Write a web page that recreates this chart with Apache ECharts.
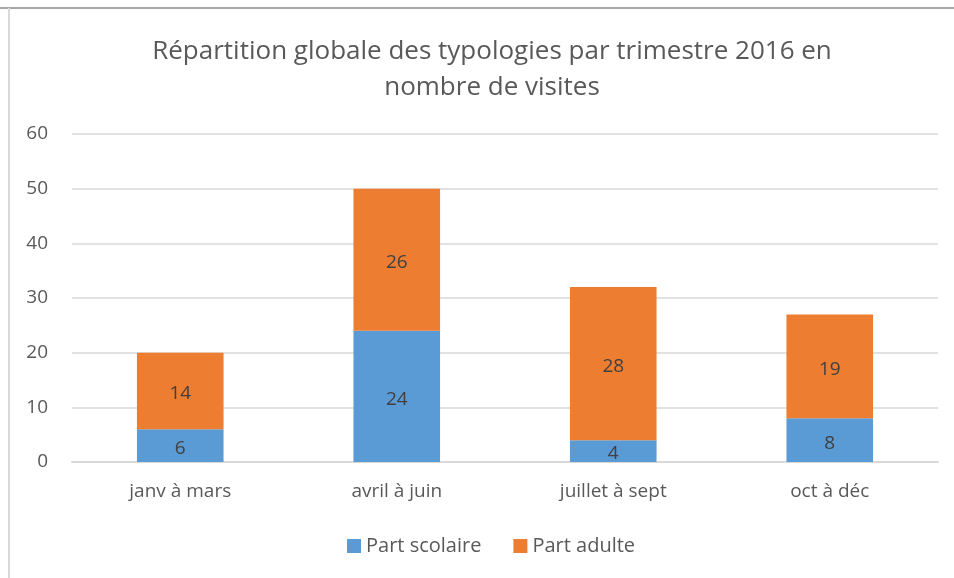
<!DOCTYPE html>
<html>
<head>
<meta charset="utf-8">
<script src="https://cdn.jsdelivr.net/npm/echarts@6/dist/echarts.min.js"></script>
<style>
  html, body { margin: 0; padding: 0; background: #fff; }
  #main { width: 954px; height: 578px; }
</style>
</head>
<body>
<div id="main"></div>
<script>
// donnees
var trimestres = ['janv à mars', 'avril à juin', 'juillet à sept', 'oct à déc'];
var partScolaire = [6, 24, 4, 8];
var partAdulte = [14, 26, 28, 19];
var yTicks = [0, 10, 20, 30, 40, 50, 60];

var police = '"Open Sans", "Liberation Sans", sans-serif';

var myChart = echarts.init(document.getElementById('main'));
var option = {
    backgroundColor: '#fff',
    animation: false,
    title: {
        text: 'Répartition globale des typologies par trimestre 2016 en\nnombre de visites',
        left: 487,
        textAlign: 'center',
        top: 29,
        textStyle: {
            fontFamily: police,
            fontSize: 26,
            fontWeight: 'normal',
            color: '#595959',
            lineHeight: 36
        }
    },
    graphic: [
        {type: 'line', shape: {x1: 0, y1: 8, x2: 954, y2: 8}, style: {stroke: '#a6a6a6', lineWidth: 2}},
        {type: 'line', shape: {x1: 9, y1: 8, x2: 9, y2: 578}, style: {stroke: '#d9d9d9', lineWidth: 2}}
    ],
    legend: {
        bottom: 17,
        left: 342,
        itemWidth: 14,
        itemHeight: 14,
        itemGap: 32,
        icon: 'rect',
        textStyle: {fontFamily: police, fontSize: 20, color: '#595959'},
        data: ['Part scolaire', 'Part adulte']
    },
    grid: {left: 72, right: 16, top: 134, bottom: 116},
    xAxis: {
        type: 'category',
        data: trimestres,
        axisLine: {lineStyle: {color: '#d9d9d9', width: 2}},
        axisTick: {show: false},
        axisLabel: {fontFamily: police, fontSize: 19, color: '#595959', margin: 20}
    },
    yAxis: {
        type: 'value',
        min: yTicks[0],
        max: yTicks[yTicks.length - 1],
        interval: 10,
        axisLine: {show: false},
        axisTick: {show: false},
        splitLine: {lineStyle: {color: '#d9d9d9', width: 1.5}},
        axisLabel: {fontFamily: police, fontSize: 19, color: '#595959', margin: 24, align: 'right'}
    },
    series: [
        {
            name: 'Part scolaire',
            type: 'bar',
            stack: 'total',
            barCategoryGap: '60%',
            itemStyle: {color: '#5b9bd5'},
            label: {show: true, position: 'inside', offset: [0, 3], fontFamily: police, fontSize: 19, color: '#404040'},
            data: partScolaire
        },
        {
            name: 'Part adulte',
            type: 'bar',
            stack: 'total',
            barCategoryGap: '60%',
            itemStyle: {color: '#ed7d31'},
            label: {show: true, position: 'inside', offset: [0, 3], fontFamily: police, fontSize: 19, color: '#404040'},
            data: partAdulte
        }
    ]
};
myChart.setOption(option);
</script>
</body>
</html>
